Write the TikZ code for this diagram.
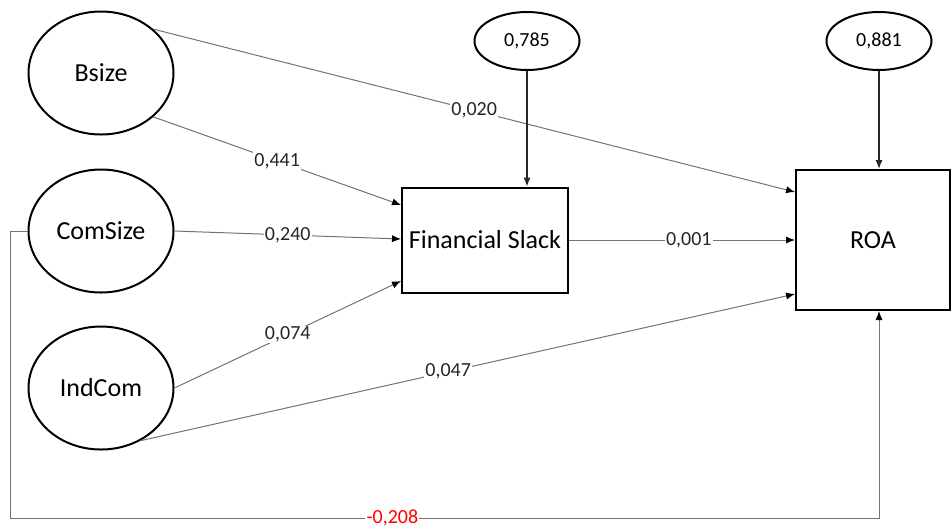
\documentclass[tikz,border=0pt]{standalone}
\usepackage{fontspec}
\setmainfont{Carlito}
\usetikzlibrary{shapes.geometric,arrows.meta}

\begin{document}
\begin{tikzpicture}[
    x=0.5pt, y=-0.5pt,
    latent/.style={ellipse, draw=black, line width=1pt, fill=white,
                   minimum width=72.5pt, minimum height=61.5pt, inner sep=0pt, font=\fontsize{13}{15}\selectfont},
    errvar/.style={ellipse, draw=black, line width=1pt, fill=white,
                   minimum width=52.5pt, minimum height=29pt, inner sep=0pt, font=\fontsize{10}{12}\selectfont},
    outcome/.style={rectangle, draw=black, line width=1pt, fill=white,
                    inner sep=0pt, font=\fontsize{13}{15}\selectfont},
    path/.style={draw=black!55, line width=0.5pt, -{Latex[length=4.5pt,width=3.6pt,black]}},
    errpath/.style={draw=black!85, line width=0.7pt, -{Latex[length=4.5pt,width=3.6pt]}},
    coef/.style={fill=white, inner sep=0.6pt, text=black!85, font=\fontsize{10}{12}\selectfont}
]
\useasboundingbox (0,0) rectangle (952,526);

% Exogenous constructs
\node[latent] (bsize) at (101,73) {Bsize};
\node[latent] (comsize) at (101,231) {ComSize};
\node[latent] (indcom) at (101,388) {IndCom};

% Endogenous constructs
\node[outcome, minimum width=83pt, minimum height=52.5pt] (slack) at (485,240) {Financial Slack};
\node[outcome, minimum width=77pt, minimum height=70pt] (roa) at (873,240) {ROA};

% Error terms
\node[errvar] (e1) at (527,41) {0,785};
\node[errvar] (e2) at (879,41) {0,881};

% Paths
\draw[path] (bsize.40) -- ([yshift=24pt]roa.west) node[coef, pos=0.5] {0,020};
\draw[path] (bsize.-40) -- ([yshift=17.5pt]slack.west) node[coef, pos=0.5] {0,441};
\draw[path] (comsize.east) -- ([yshift=0.5pt]slack.west) node[coef, pos=0.5] {0,240};
\draw[path] (indcom.east) -- ([yshift=-20.5pt]slack.west) node[coef, pos=0.5] {0,074};
\draw[path] (indcom.-53) -- ([yshift=-27pt]roa.west) node[coef, pos=0.47] {0,047};
\draw[path] (slack.east) -- (roa.west) node[coef, pos=0.53] {0,001};

% Error arrows
\draw[errpath] (e1) -- (e1 |- slack.north);
\draw[errpath] (e2) -- (e2 |- roa.north);

% ComSize -> ROA
\coordinate (low) at (10,518);
\draw[path] (comsize.west) -| (low) -| (roa.south -| e2) node[coef, text=red, pos=0.22] {-0,208};

\end{tikzpicture}
\end{document}
